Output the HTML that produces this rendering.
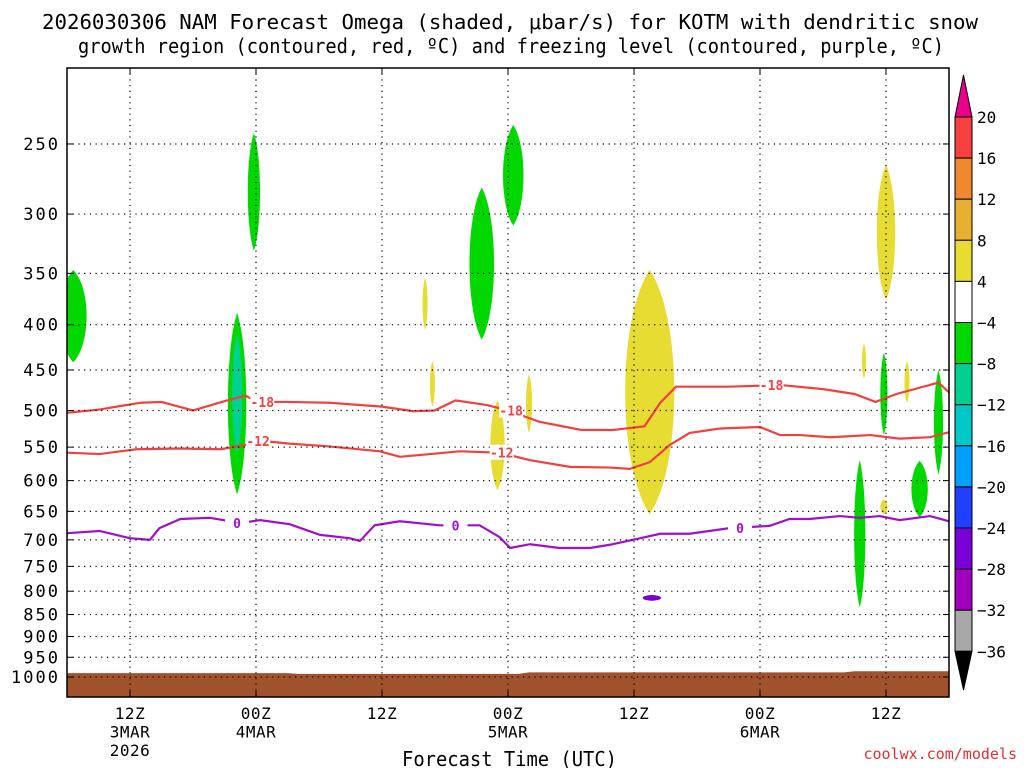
<!DOCTYPE html>
<html><head><meta charset="utf-8"><style>
body{margin:0;background:#fff;width:1024px;height:768px;overflow:hidden;font-family:"DejaVu Sans Mono","Liberation Mono",monospace}
svg{display:block}
</style></head><body>
<svg id="c" width="1024" height="768">
<text x="42" y="29" font-size="20" textLength="936" lengthAdjust="spacingAndGlyphs">2026030306 NAM Forecast Omega (shaded, μbar/s) for KOTM with dendritic snow</text>
<text x="78" y="53" font-size="20" textLength="866" lengthAdjust="spacingAndGlyphs">growth region (contoured, red, ºC) and freezing level (contoured, purple, ºC)</text>
<text x="402" y="766" font-size="20" textLength="215" lengthAdjust="spacingAndGlyphs">Forecast Time (UTC)</text>
<text x="1017" y="759" text-anchor="end" font-size="15" fill="#e03030">coolwx.com/models</text>
</svg>
<script>
const pLevels=[250,300,350,400,450,500,550,600,650,700,750,800,850,900,950,1000];
const tTicks=[6,18,30,42,54,66,78];
const tLabels=[["12Z","3MAR","2026"],["00Z","4MAR"],["12Z"],["00Z","5MAR"],["12Z"],["00Z","6MAR"],["12Z"]];
const line18T=[0,3,7,9,12,15,17,18,21,25,30,33,35,37,40,42,45,49,52,55,56.5,58,63,68,72,75,77,79,83,84];
const line18P=[503,499,490,489,500,488,481,489,489,490,495,501,500,487,493,500,515,526,526,521,490,470,470,468,473,479,489,479,465,477];
const line12T=[0,3.1,6.6,10.8,14.6,17,18.4,21.2,25,29.8,31.7,34.6,37.4,41.2,44.1,47.9,51.7,53.6,55.5,57.4,59.3,62.2,66,67.9,69.8,72.7,76.5,79.3,82.2,84];
const line12P=[558,560,553,552,553,547,541,545,549,556,564,560,556,558,569,579,580,582,572,547,530,524,522,533,533,536,533,538,536,529];
const line0T=[0,3.1,6,7.9,8.8,10.8,13.6,16.5,18.4,21.2,24.1,26.9,27.9,29.3,31.7,35.5,39.3,41.2,42.2,44.1,46.9,49.8,51.7,54.6,56.5,59.3,63.1,66.9,68.8,70.7,73.6,75.5,77.4,79.3,82.2,84];
const line0P=[688,684,697,700,679,663,661,670,665,672,691,697,702,674,667,674,674,695,715,708,715,715,709,697,689,689,679,675,663,663,658,661,658,665,658,667];
const sfcT=[0,21,22,43,44,74,75,84];
const sfcP=[990,990,992,992,988,988,985,985];
// shaded omega features: center time, half-width (h), top p, bottom p, value
const blobT=[0.6,17.8,16.2,16.2,39.5,42.5,75.5,77.8,81.2,83,55.5,78,34.1,34.8,41,44,75.9,77.8,80,55.7];
const blobW=[1.3,0.6,0.9,0.5,1.2,1.0,0.55,0.35,0.8,0.45,2.4,0.9,0.25,0.25,0.7,0.3,0.2,0.35,0.25,0.8];
const blobTop=[347,243,388,410,280,238,569,430,570,450,347,264,354,440,487,455,420,630,440,810];
const blobBot=[441,330,622,560,416,309,835,533,660,590,655,375,405,495,615,530,460,655,490,818];
const blobV=[-6,-6,-6,-10,-6,-6,-6,-6,-6,-6,6,6,6,6,6,6,6,6,6,-26];
const cbLevels=[20,16,12,8,4,-4,-8,-12,-16,-20,-24,-28,-32,-36];
const cbColors=["#f84040","#f08830","#e8b030","#e6dc32","#ffffff","#00d800","#00d090","#00c8c8","#00a0ff","#2040ff","#7a00d8","#a000c0","#a8a8a8"];

const NS="http://www.w3.org/2000/svg";
const svg=document.getElementById('c');
const X0=67,X1=949,Y0=68,Y1=697;
const x=t=>X0+t*(X1-X0)/84;
const y=p=>677-384.5*Math.log(1000/p);
function mk(tag,attrs,parent){const e=document.createElementNS(NS,tag);for(const k in attrs)e.setAttribute(k,attrs[k]);(parent||svg).appendChild(e);return e;}
function colorFor(v){for(let i=0;i<cbLevels.length-1;i++){if(v<=cbLevels[i]&&v>cbLevels[i+1])return cbColors[i];}return "#000";}

const clip=mk('clipPath',{id:'pc'});mk('rect',{x:X0,y:Y0,width:X1-X0,height:Y1-Y0},clip);
const plot=mk('g',{'clip-path':'url(#pc)'});



blobT.forEach((t,i)=>{
  const xc=x(t),w=blobW[i]*10.5,yt=y(blobTop[i]),yb=y(blobBot[i]),ym=(yt+yb)/2;
  const d=`M${xc},${yt} C${xc+w*1.3},${yt+(ym-yt)*0.4} ${xc+w*1.3},${yb-(yb-ym)*0.4} ${xc},${yb} C${xc-w*1.3},${yb-(yb-ym)*0.4} ${xc-w*1.3},${yt+(ym-yt)*0.4} ${xc},${yt}Z`;
  const e=mk('path',{d:d,fill:colorFor(blobV[i]),stroke:blobV[i]<-20?colorFor(blobV[i]):'none','stroke-width':2},plot);
  
  
});

let sd=`M${x(0)},${Y1}`;sfcT.forEach((t,i)=>sd+=` L${x(t)},${y(sfcP[i])}`);sd+=` L${x(84)},${Y1}Z`;
const sf=mk('path',{d:sd,fill:'#a0522d'},plot);



pLevels.forEach(p=>{const g=mk('line',{x1:X0,x2:X1,y1:y(p),y2:y(p),stroke:'#000','stroke-width':1.2,'stroke-dasharray':'1.2 4.5'});

});
tTicks.forEach(t=>{const g=mk('line',{x1:x(t),x2:x(t),y1:Y0,y2:Y1,stroke:'#000','stroke-width':1.2,'stroke-dasharray':'1.2 4.5'});

});

function drawLine(T,P,col,name,labels){
  const d=T.map((t,i)=>(i?'L':'M')+x(t)+','+y(P[i])).join(' ');
  const e=mk('path',{d:d,fill:'none',stroke:col,'stroke-width':2.2},plot);
  
  
  labels.forEach(l=>{
    mk('rect',{x:x(l[0])-12,y:y(l[1])-8,width:24,height:15,fill:'#fff'},svg);
    const tx=mk('text',{x:x(l[0]),y:y(l[1])+5,'text-anchor':'middle','font-size':13,'font-weight':'bold',fill:col},svg);
    tx.textContent=l[2];
    
    
  });
}
drawLine(line18T,line18P,'#f04040','contour-minus18',[[18.6,489,'-18'],[42.3,500,'-18'],[67.1,468,'-18']]);
drawLine(line12T,line12P,'#f04040','contour-minus12',[[18.2,541,'-12'],[41.4,558,'-12']]);
drawLine(line0T,line0P,'#a010c8','freezing-level',[[16.2,670,'0'],[37,674,'0'],[64.1,679,'0']]);

const fr=mk('rect',{x:X0,y:Y0,width:X1-X0,height:Y1-Y0,fill:'none',stroke:'#000','stroke-width':1.5});



pLevels.forEach(p=>{
  mk('line',{x1:X0,x2:X0+6,y1:y(p),y2:y(p),stroke:'#000'});
  mk('line',{x1:X1-6,x2:X1,y1:y(p),y2:y(p),stroke:'#000'});
  const t=mk('text',{x:60,y:y(p)+6,'text-anchor':'end','font-size':17,'letter-spacing':2});
  t.textContent=p;
  
  
});
tTicks.forEach((tt,i)=>{
  mk('line',{x1:x(tt),x2:x(tt),y1:Y1-6,y2:Y1,stroke:'#000'});
  mk('line',{x1:x(tt),x2:x(tt),y1:Y0,y2:Y0+6,stroke:'#000'});
  tLabels[i].forEach((s,j)=>{
    const t=mk('text',{x:x(tt),y:719+j*18.5,'text-anchor':'middle','font-size':16,'letter-spacing':0.5});
    t.textContent=s;
    
    
  });
});

const CX=955,CW=17,CT=117,CH=41.1;
const cb=mk('g',{});


mk('path',{d:`M${CX},${CT} L${CX+CW/2},75 L${CX+CW},${CT}Z`,fill:'#e8008a',stroke:'#000'},cb);
cbColors.forEach((c,i)=>mk('rect',{x:CX,y:CT+i*CH,width:CW,height:CH,fill:c,stroke:'#000'},cb));
const cbb=CT+cbColors.length*CH;
mk('path',{d:`M${CX},${cbb} L${CX+CW/2},690 L${CX+CW},${cbb}Z`,fill:'#000',stroke:'#000'},cb);
cbLevels.forEach((v,i)=>{
  const t=mk('text',{x:CX+CW+5,y:CT+i*CH+6,'font-size':16},cb);
  t.textContent=v<0?'−'+(-v):String(v);
  
  
});
</script>
</body></html>
